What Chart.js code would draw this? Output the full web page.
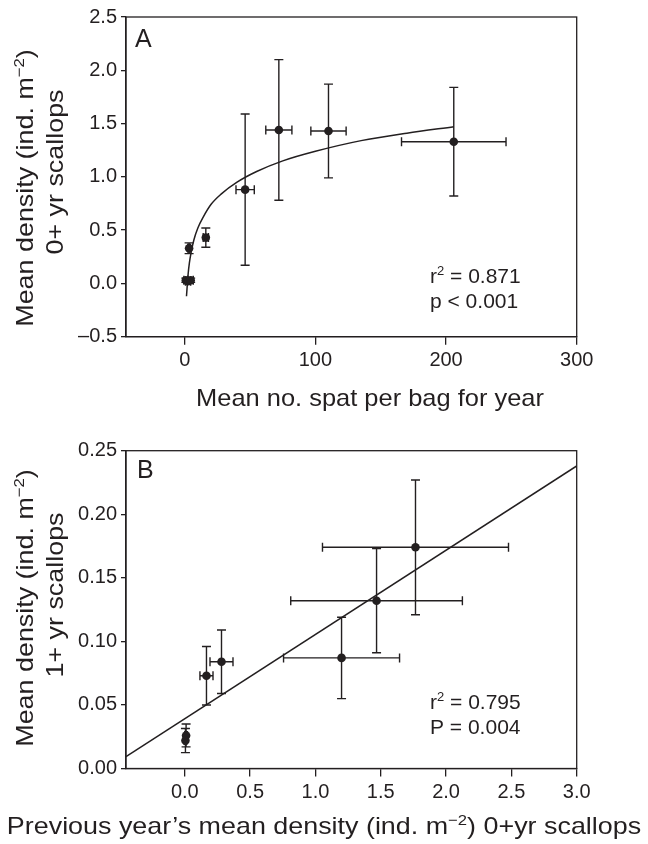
<!DOCTYPE html>
<html>
<head>
<meta charset="utf-8">
<script src="https://cdn.jsdelivr.net/npm/chart.js@4.4.1/dist/chart.umd.min.js"></script>
<style>
  body { margin: 0; background: #fff; }
  canvas { display: block; }
</style>
</head>
<body>
<canvas id="chartA" width="648" height="422"></canvas>
<canvas id="chartB" width="648" height="422"></canvas>
<script>
// ---- panel A: 0+ yr density vs spat per bag ----
const spatA    = [0.8, 2.5, 4.5, 3.3, 16.1, 46.2, 72, 110, 205.9]
const densA    = [0.03, 0.02, 0.03, 0.33, 0.43, 0.88, 1.44, 1.43, 1.33]
const spatErrA = [1.5, 2, 2, 1, 2, 7, 10, 13.5, 40]
const densErrA = [0.02, 0.01, 0.02, 0.05, 0.09, 0.71, 0.66, 0.44, 0.51]
// fitted curve
const curveXA = [1.3, 2.5, 3.5, 5, 7, 10, 14, 20, 28, 40, 55, 75, 100, 135, 170, 206]
const curveYA = [-0.12, 0.08, 0.19, 0.30, 0.41, 0.52, 0.62, 0.74, 0.84, 0.95, 1.05, 1.15, 1.24, 1.34, 1.41, 1.47]
const xTicksA = [0, 100, 200, 300]
const yTicksA = [-0.5, 0, 0.5, 1, 1.5, 2, 2.5]

// ---- panel B: 1+ yr density vs previous year's 0+ density ----
const prevB    = [0.01, 0.005, 0.166, 0.281, 1.20, 1.468, 1.766]
const densB    = [0.026, 0.022, 0.073, 0.084, 0.087, 0.132, 0.174]
const prevErrB = [0.01, 0.01, 0.05, 0.088, 0.444, 0.657, 0.712]
const densErrB = [0.009, 0.0095, 0.023, 0.025, 0.032, 0.041, 0.053]
const lineXB = [-0.45, 3.0]
const lineYB = [0.0094, 0.238]
const xTicksB = [0, 0.5, 1, 1.5, 2, 2.5, 3]
const yTicksB = [0, 0.05, 0.1, 0.15, 0.2, 0.25]

const INK = '#231f20'
const FONT = '"Liberation Sans", Arial, Helvetica, sans-serif'

function toPoints(xs, ys) {
    return xs.map((x, i) => ({ x: x, y: ys[i] }))
}

function richText(ctx, parts, x, y, size, opts) {
    opts = opts || {}
    ctx.save()
    ctx.translate(x, y)
    if (opts.rotate) ctx.rotate(opts.rotate)
    ctx.scale(opts.stretch || 1, 1)
    ctx.fillStyle = INK
    ctx.textAlign = 'left'
    ctx.textBaseline = 'alphabetic'
    var sizes = parts.map(p => p.sup ? size * 0.62 : size)
    var widths = parts.map((p, i) => {
        ctx.font = sizes[i] + 'px ' + FONT
        return ctx.measureText(p.t).width
    })
    var total = widths.reduce((a, b) => a + b, 0)
    var cx = opts.align === 'center' ? -total / 2 : 0
    parts.forEach((p, i) => {
        ctx.font = sizes[i] + 'px ' + FONT
        ctx.fillText(p.t, cx, p.sup ? -size * 0.38 : 0)
        cx += widths[i]
    })
    ctx.restore()
}

// error bars drawn through the chart's own scales
const errorBars = {
    id: 'errorBars',
    beforeDatasetsDraw(chart) {
        const ctx = chart.ctx
        const sx = chart.scales.x, sy = chart.scales.y
        const cap = 4.5
        ctx.save()
        ctx.strokeStyle = INK
        ctx.lineWidth = 1.4
        chart.data.datasets.forEach(ds => {
            if (!ds.xErr) return
            ds.data.forEach((p, i) => {
                const px = sx.getPixelForValue(p.x), py = sy.getPixelForValue(p.y)
                const x1 = sx.getPixelForValue(p.x - ds.xErr[i]), x2 = sx.getPixelForValue(p.x + ds.xErr[i])
                const y1 = sy.getPixelForValue(p.y - ds.yErr[i]), y2 = sy.getPixelForValue(p.y + ds.yErr[i])
                ctx.beginPath()
                ctx.moveTo(x1, py); ctx.lineTo(x2, py)
                ctx.moveTo(x1, py - cap); ctx.lineTo(x1, py + cap)
                ctx.moveTo(x2, py - cap); ctx.lineTo(x2, py + cap)
                ctx.moveTo(px, y1); ctx.lineTo(px, y2)
                ctx.moveTo(px - cap, y1); ctx.lineTo(px + cap, y1)
                ctx.moveTo(px - cap, y2); ctx.lineTo(px + cap, y2)
                ctx.stroke()
            })
        })
        ctx.restore()
    }
}

// frame + texts
function makeNotes(cfg) {
    return {
        id: 'notes',
        afterDraw(chart) {
            const ctx = chart.ctx
            const a = chart.chartArea
            ctx.save()
            ctx.strokeStyle = INK
            ctx.lineWidth = 1.3
            ctx.strokeRect(a.left, a.top, a.right - a.left, a.bottom - a.top)
            ctx.restore()
            richText(ctx, [{ t: cfg.letter }], cfg.letterX, cfg.letterY, 25)
            richText(ctx, [{ t: 'r' }, { t: '2', sup: true }, { t: ' = ' + cfg.r2 }], 430, cfg.statY, 21)
            richText(ctx, [{ t: cfg.p }], 430, cfg.statY + 25, 21)
            richText(ctx, cfg.xTitle, cfg.xTitleX, cfg.xTitleY, 24, { align: 'center', stretch: cfg.xStretch })
            richText(ctx, [{ t: 'Mean density (ind. m' }, { t: '\u22122', sup: true }, { t: ')' }],
                33, cfg.yTitle1Y, 24, { align: 'center', stretch: 1.12, rotate: -Math.PI / 2 })
            richText(ctx, [{ t: cfg.yTitle2 }], 63, cfg.yTitle2Y, 24, { align: 'center', stretch: 1.12, rotate: -Math.PI / 2 })
        }
    }
}

function axis(min, max, ticks, digits, tickLen, fix, isX) {
    return {
        type: 'linear',
        min: min,
        max: max,
        afterBuildTicks: s => { s.ticks = ticks.map(v => ({ value: v })) },
        afterFit: s => { if (isX) s.height = fix; else s.width = fix },
        border: { display: true, color: INK, width: 1.3 },
        grid: { display: true, drawOnChartArea: false, drawTicks: true, tickLength: tickLen, color: INK, lineWidth: 1.3 },
        ticks: {
            color: INK,
            padding: 4,
            maxRotation: 0,
            autoSkip: false,
            font: { family: FONT, size: 20 },
            callback: v => v.toFixed(digits).replace('-', '\u2013')
        }
    }
}

function createChart(id, cfg) {
    return new Chart(document.getElementById(id), {
        type: 'scatter',
        data: {
            datasets: [{
                data: cfg.points,
                xErr: cfg.xErr,
                yErr: cfg.yErr,
                pointRadius: 4.3,
                pointHoverRadius: 4.3,
                pointBackgroundColor: INK,
                pointBorderWidth: 0,
                showLine: false
            }, {
                type: 'line',
                data: cfg.fit,
                borderColor: INK,
                borderWidth: 1.5,
                pointRadius: 0,
                cubicInterpolationMode: 'monotone',
                fill: false
            }]
        },
        options: {
            responsive: false,
            animation: false,
            devicePixelRatio: 1,
            layout: { padding: { top: cfg.padTop, right: 71.3, left: 0, bottom: 0 } },
            plugins: { legend: { display: false }, tooltip: { enabled: false } },
            scales: {
                x: axis(cfg.xMin, cfg.xMax, cfg.xTicks, cfg.xDigits, 8, cfg.xHeight, true),
                y: axis(cfg.yMin, cfg.yMax, cfg.yTicks, cfg.yDigits, 5, 126, false)
            }
        },
        plugins: [errorBars, makeNotes(cfg.notes)]
    })
}

createChart('chartA', {
    points: toPoints(spatA, densA), xErr: spatErrA, yErr: densErrA,
    fit: toPoints(curveXA, curveYA),
    xMin: -45, xMax: 300, xTicks: xTicksA, xDigits: 0,
    yMin: -0.5, yMax: 2.5, yTicks: yTicksA, yDigits: 1,
    padTop: 17, xHeight: 85.3,
    notes: {
        letter: 'A', letterX: 135, letterY: 47,
        r2: '0.871', p: 'p < 0.001', statY: 283,
        xTitle: [{ t: 'Mean no. spat per bag for year' }], xTitleX: 370, xTitleY: 406, xStretch: 1.06,
        yTitle1Y: 188, yTitle2: '0+ yr scallops', yTitle2Y: 172
    }
})

createChart('chartB', {
    points: toPoints(prevB, densB), xErr: prevErrB, yErr: densErrB,
    fit: toPoints(lineXB, lineYB),
    xMin: -0.45, xMax: 3.0, xTicks: xTicksB, xDigits: 1,
    yMin: 0, yMax: 0.25, yTicks: yTicksB, yDigits: 2,
    padTop: 28.7, xHeight: 75.5,
    notes: {
        letter: 'B', letterX: 137, letterY: 56,
        r2: '0.795', p: 'P = 0.004', statY: 287,
        xTitle: [{ t: 'Previous year\u2019s mean density (ind. m' }, { t: '\u22122', sup: true }, { t: ') 0+yr scallops' }],
        xTitleX: 324, xTitleY: 412, xStretch: 1.12,
        yTitle1Y: 186, yTitle2: '1+ yr scallops', yTitle2Y: 173
    }
})
</script>
</body>
</html>
